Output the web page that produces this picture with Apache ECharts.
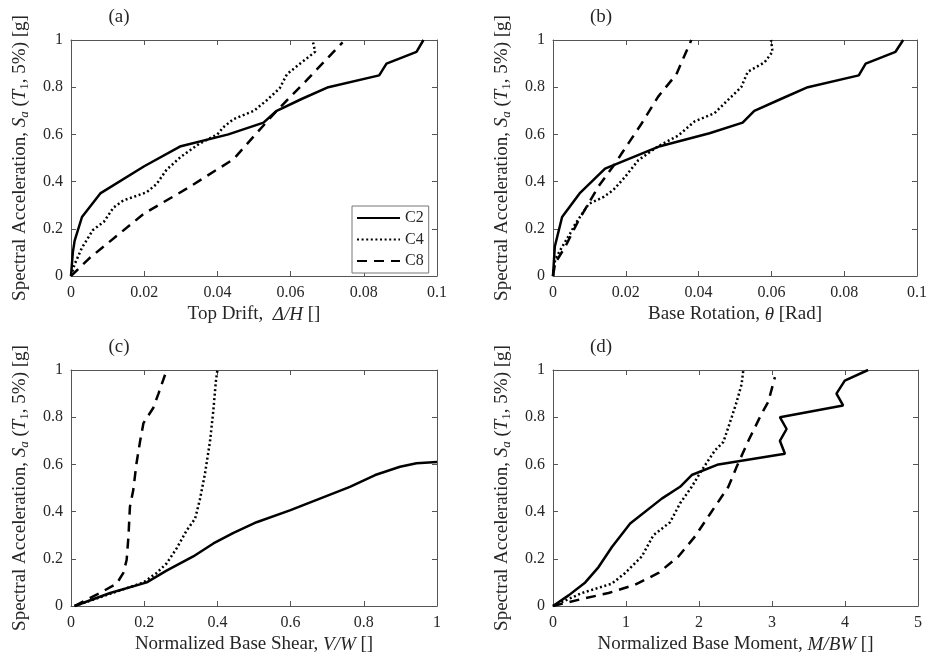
<!DOCTYPE html>
<html>
<head>
<meta charset="utf-8">
<script src="https://cdn.jsdelivr.net/npm/echarts@6/dist/echarts.min.js"></script>
<style>
  html, body { margin: 0; padding: 0; background: #fff; }
  #main { width: 930px; height: 660px; }
</style>
</head>
<body>
<div id="main"></div>
<script>
// (a) top drift vs Sa
var driftC2 = [[0,0],[0.0005,0.1],[0.001,0.15],[0.003,0.25],[0.008,0.35],[0.02,0.465],[0.03,0.55],[0.043,0.6],[0.0526,0.65],[0.0562,0.7],[0.063,0.75],[0.0703,0.8],[0.0842,0.85],[0.0862,0.9],[0.0944,0.95],[0.0963,1.0]];
var driftC4 = [[0,0],[0.001,0.05],[0.003,0.12],[0.006,0.195],[0.009,0.23],[0.0116,0.29],[0.0143,0.32],[0.0207,0.355],[0.0234,0.39],[0.0261,0.45],[0.03,0.505],[0.035,0.56],[0.04,0.6],[0.0416,0.63],[0.0444,0.665],[0.05,0.7],[0.0535,0.745],[0.057,0.795],[0.059,0.855],[0.0626,0.9],[0.0667,0.95],[0.066,1.0]];
var driftC8 = [[0,0],[0.005,0.075],[0.02,0.265],[0.0316,0.37],[0.0444,0.495],[0.0507,0.605],[0.0562,0.7],[0.0644,0.83],[0.0742,0.99]];
// (b) base rotation
var rotC2 = [[0,0],[0.0005,0.125],[0.0025,0.25],[0.0073,0.35],[0.0143,0.455],[0.0294,0.55],[0.043,0.605],[0.0521,0.65],[0.0553,0.7],[0.0626,0.75],[0.07,0.8],[0.084,0.85],[0.0859,0.9],[0.0941,0.95],[0.0962,1.0]];
var rotC4 = [[0,0],[0.0006,0.07],[0.002,0.11],[0.0047,0.18],[0.0061,0.22],[0.0098,0.305],[0.0139,0.335],[0.0166,0.365],[0.0198,0.42],[0.0234,0.49],[0.0289,0.55],[0.0344,0.595],[0.0389,0.655],[0.0444,0.69],[0.048,0.745],[0.0517,0.8],[0.0535,0.865],[0.0581,0.905],[0.0603,0.95],[0.0599,1.0]];
var rotC8 = [[0,0],[0.0006,0.055],[0.0034,0.125],[0.0052,0.18],[0.007,0.235],[0.0093,0.295],[0.0125,0.38],[0.017,0.475],[0.0189,0.52],[0.0243,0.645],[0.0289,0.76],[0.0339,0.855],[0.038,1.0]];
// (c) normalized base shear
var shearC2 = [[0.01,0],[0.107,0.055],[0.207,0.1],[0.261,0.15],[0.334,0.21],[0.389,0.265],[0.444,0.31],[0.507,0.355],[0.598,0.405],[0.68,0.455],[0.762,0.505],[0.831,0.555],[0.899,0.59],[0.944,0.605],[1.0,0.61]];
var shearC4 = [[0.01,0],[0.198,0.1],[0.234,0.14],[0.261,0.18],[0.289,0.245],[0.316,0.32],[0.339,0.37],[0.352,0.45],[0.366,0.56],[0.38,0.7],[0.389,0.83],[0.396,0.955],[0.4,1.0]];
var shearC8 = [[0.01,0],[0.034,0.02],[0.079,0.055],[0.125,0.095],[0.143,0.14],[0.152,0.195],[0.157,0.295],[0.161,0.42],[0.17,0.49],[0.179,0.605],[0.189,0.7],[0.198,0.775],[0.225,0.84],[0.239,0.9],[0.257,0.98]];
// (d) normalized base moment
var momentC2 = [[0,0],[0.214,0.045],[0.442,0.1],[0.624,0.165],[0.807,0.25],[1.057,0.35],[1.49,0.455],[1.741,0.505],[1.9,0.555],[2.265,0.6],[3.177,0.645],[3.108,0.7],[3.2,0.75],[3.108,0.8],[3.974,0.85],[3.883,0.9],[3.997,0.955],[4.316,1.0]];
var momentC4 = [[0,0],[0.397,0.055],[0.807,0.095],[0.989,0.14],[1.217,0.21],[1.376,0.3],[1.604,0.355],[1.741,0.435],[1.9,0.505],[2.037,0.575],[2.22,0.66],[2.334,0.695],[2.448,0.8],[2.516,0.865],[2.584,0.94],[2.607,1.0]];
var momentC8 = [[0,0],[0.397,0.03],[0.761,0.055],[1.126,0.09],[1.445,0.14],[1.718,0.21],[1.946,0.295],[2.151,0.39],[2.402,0.505],[2.516,0.59],[2.676,0.7],[2.858,0.815],[2.949,0.865],[3.04,0.97]];

var panelLabels = ['(a)', '(b)', '(c)', '(d)'];
var xMax = [0.1, 0.1, 1, 5];
var xStep = [0.02, 0.02, 0.2, 1];
var xNames = [
    '{n|Top Drift,  }{i|\u0394/H}{n| []}',
    '{n|Base Rotation, }{i|\u03b8}{n| [Rad]}',
    '{n|Normalized Base Shear, }{i|V/W}{n| []}',
    '{n|Normalized Base Moment, }{i|M/BW}{n| []}'
];
var yName = '{n|Spectral Acceleration, }{i|S}{si|a}{n| (}{i|T}{s|1}{n|, 5%) [g]}';
var panelData = [
    [driftC2, driftC4, driftC8],
    [rotC2, rotC4, rotC8],
    [shearC2, shearC4, shearC8],
    [momentC2, momentC4, momentC8]
];
var seriesNames = ['C2', 'C4', 'C8'];
var lineTypes = ['solid', [2, 2.6], [10, 7]];

var FONT = '"Liberation Serif", "Times New Roman", serif';
var TXT = '#262626';
var AX = '#555';

var rich = {
    n: { fontFamily: FONT, fontSize: 19, color: TXT },
    i: { fontFamily: FONT, fontSize: 19, color: TXT, fontStyle: 'italic' },
    s: { fontFamily: FONT, fontSize: 13, color: TXT, padding: [9, 0, 0, 0] },
    si: { fontFamily: FONT, fontSize: 13, color: TXT, fontStyle: 'italic', padding: [9, 0, 0, 0] }
};

var grids = [
    { left: 71, top: 40, width: 366, height: 236 },
    { left: 553, top: 40, width: 365, height: 236 },
    { left: 71, top: 370, width: 366, height: 236 },
    { left: 553, top: 370, width: 365, height: 236 }
];

var xAxes = [], yAxes = [], series = [], labels = [];
grids.forEach(function (g, k) {
    // main axes
    xAxes.push({
        gridIndex: k, type: 'value', min: 0, max: xMax[k], interval: xStep[k],
        name: xNames[k], nameLocation: 'middle', nameGap: 29,
        nameTextStyle: { rich: rich },
        axisLine: { onZero: false, lineStyle: { color: AX, width: 1 } },
        axisTick: { inside: true, length: 5, lineStyle: { color: AX } },
        axisLabel: { margin: 9, fontFamily: FONT, fontSize: 16, color: TXT },
        splitLine: { show: false }
    });
    yAxes.push({
        gridIndex: k, type: 'value', min: 0, max: 1, interval: 0.2,
        name: yName, nameLocation: 'middle', nameGap: 40, nameRotate: 90,
        nameTextStyle: { rich: rich },
        axisLine: { onZero: false, lineStyle: { color: AX, width: 1 } },
        axisTick: { inside: true, length: 5, lineStyle: { color: AX } },
        axisLabel: { margin: 8, fontFamily: FONT, fontSize: 16, color: TXT },
        splitLine: { show: false }
    });
    // mirrored box axes (top / right), ticks only
    xAxes.push({
        gridIndex: k, type: 'value', position: 'top', min: 0, max: xMax[k], interval: xStep[k],
        axisLine: { onZero: false, lineStyle: { color: AX, width: 1 } },
        axisTick: { inside: true, length: 5, lineStyle: { color: AX } },
        axisLabel: { show: false }, splitLine: { show: false }
    });
    yAxes.push({
        gridIndex: k, type: 'value', position: 'right', min: 0, max: 1, interval: 0.2,
        axisLine: { onZero: false, lineStyle: { color: AX, width: 1 } },
        axisTick: { inside: true, length: 5, lineStyle: { color: AX } },
        axisLabel: { show: false }, splitLine: { show: false }
    });

    panelData[k].forEach(function (d, j) {
        series.push({
            name: seriesNames[j], type: 'line',
            xAxisIndex: 2 * k, yAxisIndex: 2 * k,
            data: d, symbol: 'none', showSymbol: false, silent: true,
            lineStyle: { color: '#000', width: 2.5, type: lineTypes[j] },
            itemStyle: { color: '#000' },
            z: 3 - j
        });
    });

    labels.push({
        type: 'text',
        x: g.left + 48, y: g.top - 23,
        style: {
            text: panelLabels[k], fill: TXT,
            font: '19px ' + FONT,
            align: 'center', verticalAlign: 'middle'
        }
    });
});

var chart = echarts.init(document.getElementById('main'));
chart.setOption({
    backgroundColor: '#fff',
    animation: false,
    graphic: labels,
    grid: grids,
    xAxis: xAxes,
    yAxis: yAxes,
    legend: {
        data: seriesNames,
        orient: 'vertical',
        left: 352, top: 206,
        padding: [4, 5, 4, 4],
        itemWidth: 43, itemHeight: 14, itemGap: 5.5,
        borderColor: '#777', borderWidth: 1, borderRadius: 0,
        backgroundColor: '#fff',
        selectedMode: false,
        itemStyle: { color: 'rgba(0,0,0,0)', borderWidth: 0 },
        textStyle: { fontFamily: FONT, fontSize: 16, color: TXT }
    },
    series: series
});
</script>
</body>
</html>
